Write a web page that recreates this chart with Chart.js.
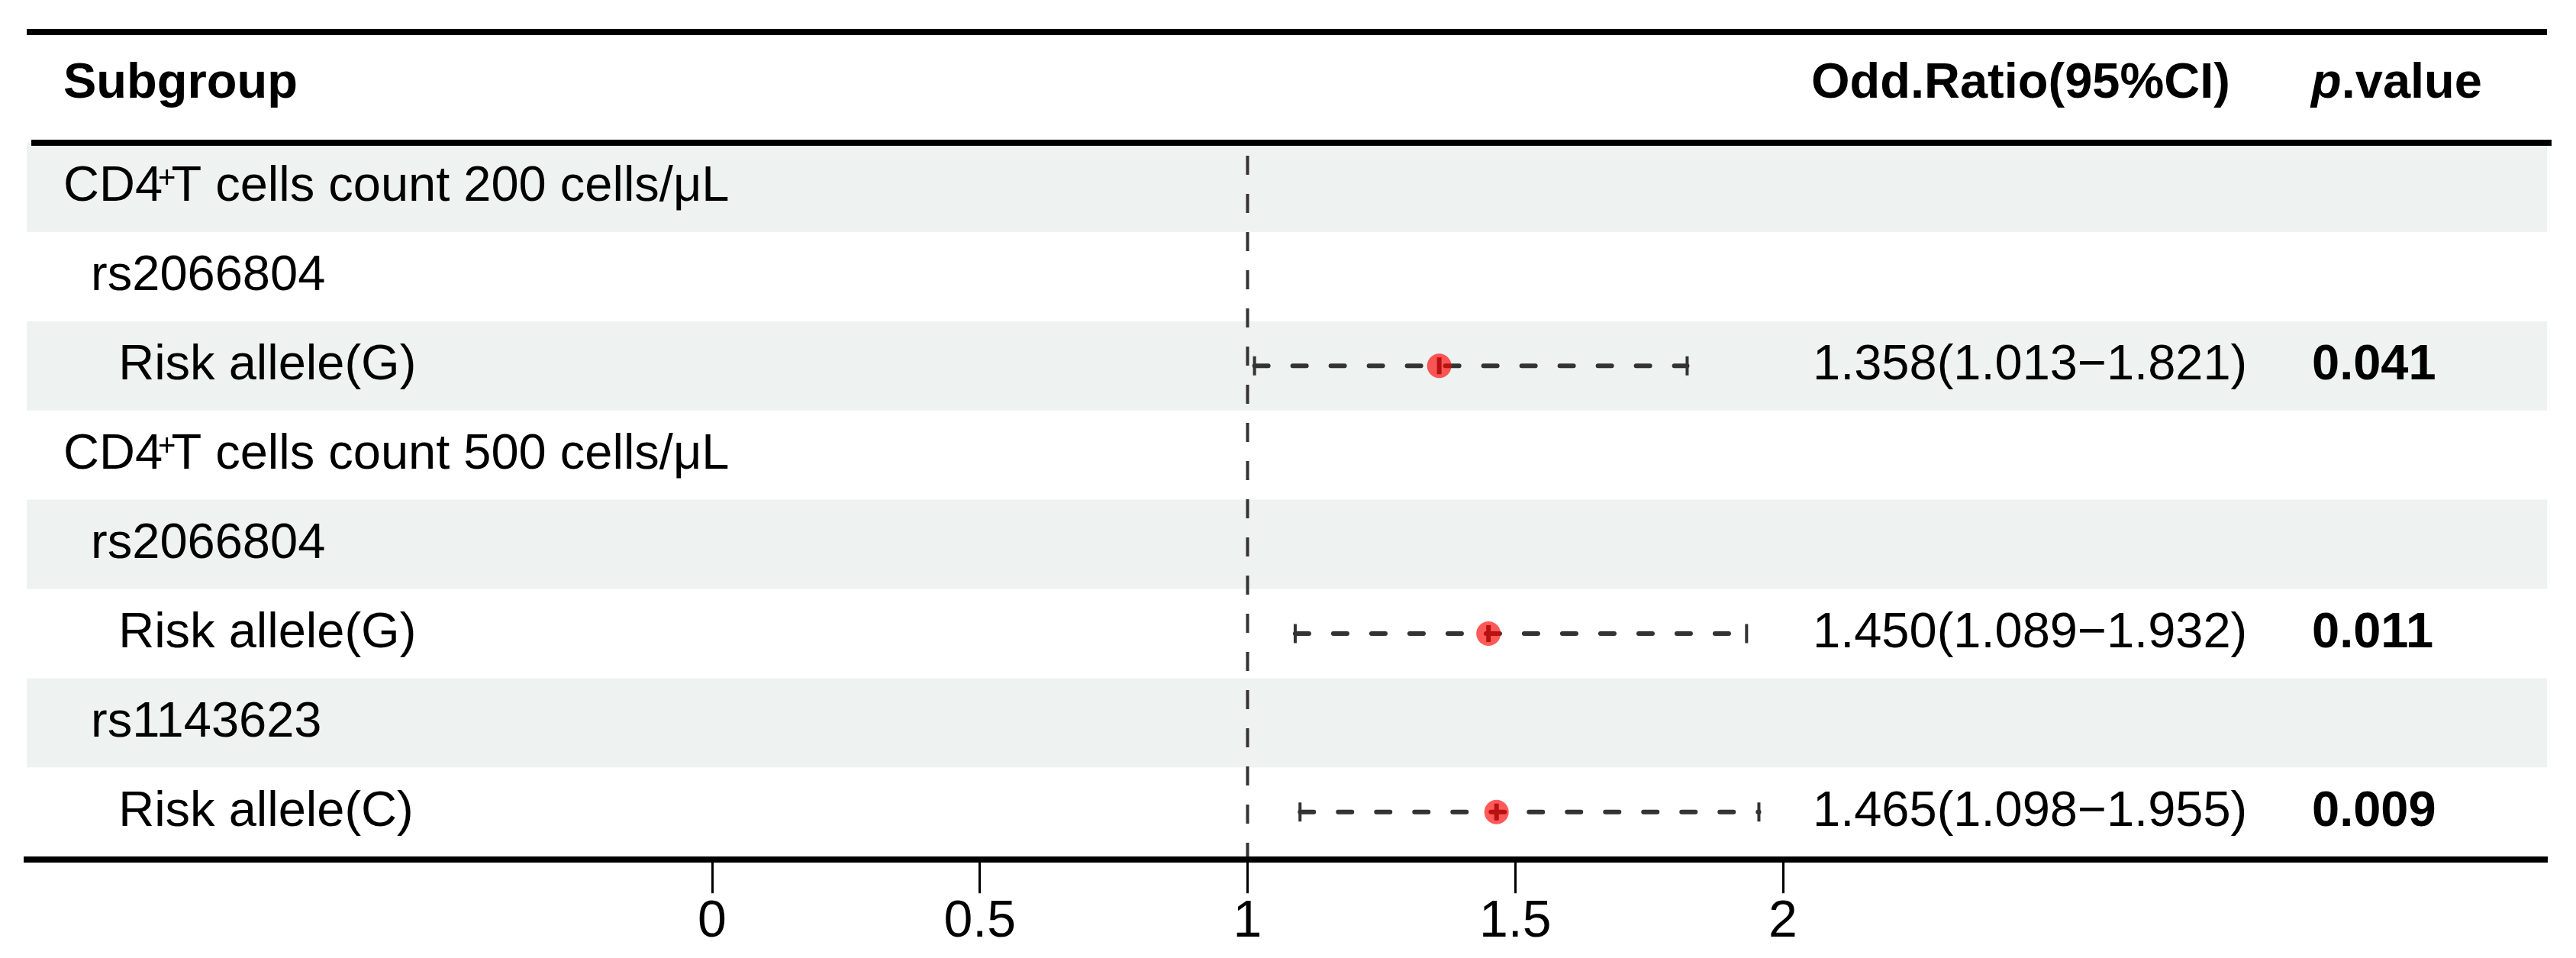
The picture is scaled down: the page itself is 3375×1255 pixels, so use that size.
<!DOCTYPE html>
<html>
<head>
<meta charset="utf-8">
<title>Forest plot</title>
<script src="https://cdn.jsdelivr.net/npm/chart.js@4.4.1/dist/chart.umd.min.js"></script>
<style>
  html, body { margin: 0; padding: 0; background: #fff; }
  #forestChart { display: block; }
</style>
</head>
<body>
<canvas id="forestChart" width="3375" height="1255"></canvas>
<script>
// 표 데이터
const subgroups = [
  'CD4⁺T cells count 200 cells/μL',
  'rs2066804',
  'Risk allele(G)',
  'CD4⁺T cells count 500 cells/μL',
  'rs2066804',
  'Risk allele(G)',
  'rs1143623',
  'Risk allele(C)'
];
const levels = [0, 1, 2, 0, 1, 2, 1, 2]; // 들여쓰기 단계
const oddsRatio = [null, null, 1.358, null, null, 1.450, null, 1.465];
const lowerCI = [null, null, 1.013, null, null, 1.089, null, 1.098];
const upperCI = [null, null, 1.821, null, null, 1.932, null, 1.955];
const pValues = ['', '', '0.041', '', '', '0.011', '', '0.009'];
const xTicks = [0, 0.5, 1, 1.5, 2];
const headers = ['Subgroup', 'Odd.Ratio(95%CI)', 'p.value'];

const FONT = '"Liberation Sans", Arial, Helvetica, sans-serif';
const FONT_SIZE = 65;
const BAND = '#eef2f1';
const INK = '#333333';

Chart.defaults.font.family = FONT;

const rows = subgroups.map((_, i) => i).filter(i => oddsRatio[i] !== null);

// 점 추정치, 신뢰구간
const pointData = rows.map(i => ({ x: oddsRatio[i], y: i }));
const capData = rows.flatMap(i => [{ x: lowerCI[i], y: i }, { x: upperCI[i], y: i }]);
const ciSets = rows.map(i => ({
  data: [{ x: lowerCI[i], y: i }, { x: upperCI[i], y: i }],
  showLine: true,
  borderColor: INK,
  borderWidth: 6,
  borderDash: [18, 32],
  borderCapStyle: 'round',
  pointRadius: 0,
  order: 3
}));

// 기준선 (OR = 1)
const refLine = {
  data: [{ x: 1, y: -0.5 }, { x: 1, y: subgroups.length - 0.5 }],
  showLine: true,
  borderColor: INK,
  borderWidth: 4,
  borderDash: [25, 25],
  borderDashOffset: 33,
  pointRadius: 0,
  order: 4
};

// 위첨자 + 처리
function drawRowLabel(ctx, text, x, y) {
  const parts = text.split('⁺');
  ctx.font = FONT_SIZE + 'px ' + FONT;
  ctx.textBaseline = 'middle';
  ctx.fillText(parts[0], x, y);
  if (parts.length < 2) return;
  let cx = x + ctx.measureText(parts[0]).width - 6;
  ctx.font = '40px ' + FONT;
  ctx.textBaseline = 'alphabetic';
  ctx.fillText('+', cx, y + 1);
  cx += ctx.measureText('+').width - 6;
  ctx.font = FONT_SIZE + 'px ' + FONT;
  ctx.textBaseline = 'middle';
  ctx.fillText(parts[1], cx, y);
}

// 표 그리기 플러그인
const tablePlugin = {
  id: 'forestTable',
  beforeDraw(chart) {
    const { ctx, chartArea, scales } = chart;
    ctx.save();
    ctx.fillStyle = BAND;
    subgroups.forEach((_, i) => {
      if (i % 2 !== 0) return;
      const y0 = scales.y.getPixelForValue(i - 0.5);
      const y1 = scales.y.getPixelForValue(i + 0.5);
      ctx.fillRect(chartArea.left, y0, chartArea.right - chartArea.left, y1 - y0);
    });
    ctx.restore();
  },
  afterDraw(chart) {
    const { ctx, chartArea, scales } = chart;
    const colX = [83, 2373, 3028];
    ctx.save();
    ctx.fillStyle = '#000';

    // 위쪽 선 두 개
    ctx.fillRect(chartArea.left, 38, chartArea.right - chartArea.left, 8);
    ctx.fillRect(chartArea.left + 6, chartArea.top - 4, chartArea.right - chartArea.left, 8);

    // 머리글
    const headY = 110;
    ctx.textBaseline = 'middle';
    ctx.textAlign = 'left';
    ctx.font = 'bold ' + FONT_SIZE + 'px ' + FONT;
    ctx.fillText(headers[0], colX[0], headY);
    ctx.fillText(headers[1], colX[1], headY);
    ctx.font = 'italic bold ' + FONT_SIZE + 'px ' + FONT;
    ctx.fillText(headers[2][0], colX[2], headY);
    const pw = ctx.measureText(headers[2][0]).width;
    ctx.font = 'bold ' + FONT_SIZE + 'px ' + FONT;
    ctx.fillText(headers[2].slice(1), colX[2] + pw, headY);

    // 각 행
    ctx.font = FONT_SIZE + 'px ' + FONT;
    const indent = ctx.measureText('  ').width;
    subgroups.forEach((label, i) => {
      const y = scales.y.getPixelForValue(i);
      drawRowLabel(ctx, label, colX[0] + levels[i] * indent, y);
      if (oddsRatio[i] !== null) {
        ctx.font = FONT_SIZE + 'px ' + FONT;
        ctx.textBaseline = 'middle';
        const est = oddsRatio[i].toFixed(3) + '(' + lowerCI[i].toFixed(3) + '−' + upperCI[i].toFixed(3) + ')';
        ctx.fillText(est, colX[1] + 2, y);
        ctx.font = 'bold ' + FONT_SIZE + 'px ' + FONT;
        ctx.fillText(pValues[i], colX[2] + 1, y);
      }
    });
    ctx.restore();
  }
};

const ctx = document.getElementById('forestChart').getContext('2d');

const forestChart = new Chart(ctx, {
  type: 'scatter',
  data: {
    datasets: [
      {
        data: pointData,
        pointStyle: 'circle',
        pointRadius: 16,
        backgroundColor: 'rgba(255, 0, 0, 0.65)',
        borderWidth: 0,
        order: 1
      },
      {
        data: pointData,
        pointStyle: 'line',
        rotation: 90,
        pointRadius: 11,
        borderColor: INK,
        borderWidth: 6,
        order: 2
      },
      {
        data: capData,
        pointStyle: 'line',
        rotation: 90,
        pointRadius: 12.5,
        borderColor: INK,
        borderWidth: 4,
        order: 2
      },
      ...ciSets,
      refLine
    ]
  },
  options: {
    responsive: false,
    animation: false,
    events: [],
    layout: { padding: { left: 35, right: 38, top: 187, bottom: 8 } },
    plugins: { legend: { display: false }, tooltip: { enabled: false } },
    scales: {
      x: {
        type: 'linear',
        position: 'bottom',
        min: -1.2801,
        max: 3.4269,
        afterBuildTicks: axis => { axis.ticks = xTicks.map(v => ({ value: v })); },
        ticks: {
          autoSkip: false,
          maxRotation: 0,
          color: '#000',
          padding: 1,
          font: { size: 68, lineHeight: 1.1 },
          callback: v => String(v)
        },
        grid: {
          drawOnChartArea: false,
          drawTicks: true,
          tickLength: 44,
          tickColor: '#000',
          tickWidth: 3
        },
        border: { display: true, color: '#000', width: 8 }
      },
      y: {
        type: 'linear',
        display: false,
        reverse: true,
        min: -0.5,
        max: subgroups.length - 0.5 + 0.034
      }
    }
  },
  plugins: [tablePlugin]
});
</script>
</body>
</html>
